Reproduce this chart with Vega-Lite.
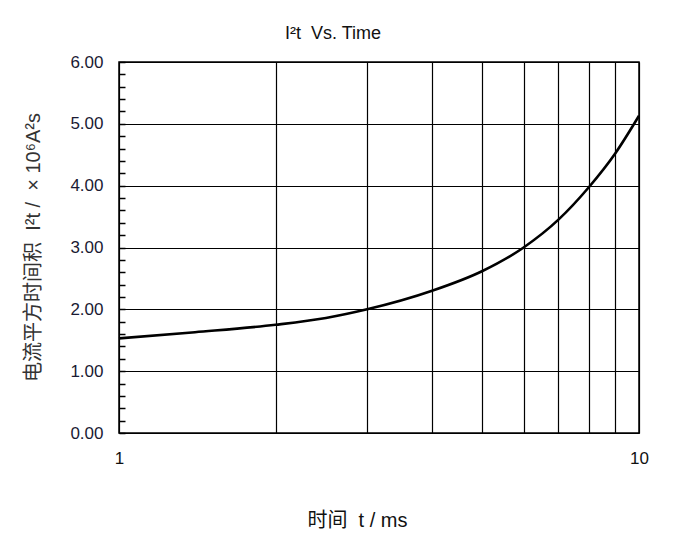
{
  "$schema": "https://vega.github.io/schema/vega-lite/v6.json",
  "width": 520,
  "height": 371,
  "autosize": {"type": "none"},
  "padding": {"left": 119, "top": 62, "right": 38, "bottom": 116},
  "background": "white",
  "config": {
    "font": "Liberation Sans",
    "view": {"stroke": "black", "strokeWidth": 1.5},
    "axis": {"domain": false, "labelFont": "Liberation Sans", "titleFont": "Liberation Sans, Noto Sans CJK SC"}
  },
  "title": {
    "text": "I²t\u00a0\u00a0Vs. Time",
    "font": "Liberation Sans",
    "fontSize": 18,
    "fontWeight": "normal",
    "color": "#111",
    "anchor": "middle",
    "frame": "group",
    "dx": -46,
    "offset": 10
  },
  "data": {
    "values": [
      {"t": 1.0, "i2t": 1.53},
      {"t": 1.4, "i2t": 1.63},
      {"t": 2.0, "i2t": 1.75},
      {"t": 2.5, "i2t": 1.86},
      {"t": 3.0, "i2t": 2.0},
      {"t": 4.0, "i2t": 2.3},
      {"t": 5.0, "i2t": 2.62},
      {"t": 6.0, "i2t": 3.0},
      {"t": 7.0, "i2t": 3.45},
      {"t": 8.0, "i2t": 3.97},
      {"t": 9.0, "i2t": 4.52},
      {"t": 10.0, "i2t": 5.13}
    ]
  },
  "mark": {"type": "line", "color": "black", "strokeWidth": 2.6, "interpolate": "monotone"},
  "encoding": {
    "x": {
      "field": "t",
      "type": "quantitative",
      "scale": {"type": "log", "domain": [1, 10], "nice": false},
      "axis": {
        "values": [1, 2, 3, 4, 5, 6, 7, 8, 9, 10],
        "labelExpr": "datum.value == 1 || datum.value == 10 ? datum.value : ''",
        "labelFlush": false,
        "labelFontSize": 17,
        "labelColor": "#111",
        "labelPadding": 17,
        "ticks": false,
        "grid": true,
        "gridColor": "black",
        "gridWidth": 1.2,
        "gridOpacity": 1,
        "title": "时间\u00a0\u00a0t / ms",
        "titleFontSize": 20,
        "titleFontWeight": "normal",
        "titleColor": "#111",
        "titleX": 238,
        "titleY": 77,
        "titleAnchor": null
      }
    },
    "y": {
      "field": "i2t",
      "type": "quantitative",
      "scale": {"domain": [0, 6], "nice": false, "zero": true},
      "axis": {
        "values": [0, 0.2, 0.4, 0.6, 0.8, 1, 1.2, 1.4, 1.6, 1.8, 2, 2.2, 2.4, 2.6, 2.8, 3, 3.2, 3.4, 3.6, 3.8, 4, 4.2, 4.4, 4.6, 4.8, 5, 5.2, 5.4, 5.6, 5.8, 6],
        "labelExpr": "abs(datum.value - round(datum.value)) < 0.01 ? format(datum.value, '.2f') : ''",
        "labelFontSize": 17,
        "labelColor": "#1a1a33",
        "labelPadding": 22,
        "ticks": true,
        "tickSize": -6,
        "tickColor": "black",
        "tickWidth": 1.5,
        "grid": true,
        "gridColor": "black",
        "gridWidth": 1.2,
        "gridOpacity": {"condition": {"test": "abs(datum.value - round(datum.value)) > 0.01", "value": 0}, "value": 1},
        "title": "电流平方时间积\u00a0\u00a0I²t / \u00a0×\u00a010⁶A²s",
        "titleFontSize": 20,
        "titleFontWeight": "normal",
        "titleColor": "#333",
        "titleAngle": 270,
        "titleAlign": "center",
        "titleBaseline": "middle",
        "titleX": -86,
        "titleY": 185
      }
    }
  }
}
